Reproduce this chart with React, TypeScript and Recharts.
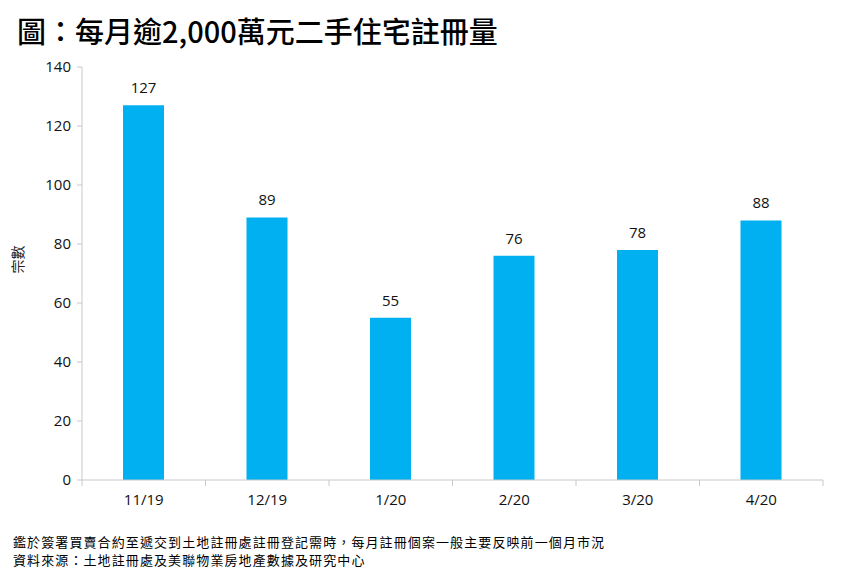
import { BarChart, Bar, XAxis, YAxis, LabelList } from "recharts";

const months = ["11/19", "12/19", "1/20", "2/20", "3/20", "4/20"];
const counts = [127, 89, 55, 76, 78, 88];
const yTicks = [0, 20, 40, 60, 80, 100, 120, 140];
const bandEdges = [0, 1, 2, 3, 4, 5, 6];

const data = months.map((m, i) => ({ month: m, count: counts[i], pos: i + 0.5 }));

const cjk = '"Noto Sans CJK TC", "Noto Sans", sans-serif';
const num = '"Open Sans", "Noto Sans", sans-serif';

export default function App() {
  return (
    <div style={{ position: "relative", width: 842, height: 582, background: "#fff", fontFamily: cjk }}>
      <style>{"body{margin:0}"}</style>
      <div
        style={{
          position: "absolute",
          left: 17,
          top: 11,
          fontSize: 29,
          fontWeight: 500,
          lineHeight: "38px",
          color: "#000",
          whiteSpace: "nowrap",
        }}
      >
        圖：每月逾2,000萬元二手住宅註冊量
      </div>

      <BarChart
        width={842}
        height={582}
        data={data}
        margin={{ top: 67, right: 19, bottom: 71, left: 0 }}
        barSize={41}
      >
        {/* boundary ticks between categories, like the original */}
        <XAxis
          xAxisId="a"
          type="number"
          dataKey="pos"
          domain={[0, 6]}
          ticks={bandEdges}
          interval={0}
          axisLine={{ stroke: "#c8c8c8" }}
          tick={() => <g />}
          tickLine={{ stroke: "#c8c8c8" }}
          tickSize={6}
          height={1}
        />
        <XAxis
          dataKey="month"
          xAxisId="b"
          axisLine={false}
          tickLine={false}
          tick={{ fill: "#111", fontSize: 15, fontFamily: num }}
          tickMargin={7}
          height={30}
        />
        <YAxis
          domain={[0, 140]}
          ticks={yTicks}
          width={82}
          axisLine={{ stroke: "#c8c8c8" }}
          tickLine={{ stroke: "#c8c8c8" }}
          tickSize={5}
          tick={{ fill: "#111", fontSize: 15, fontFamily: num }}
          tickMargin={6}
          label={{
            value: "宗數",
            angle: -90,
            position: "insideLeft",
            offset: 18,
            style: { fontSize: 14, fill: "#222", fontFamily: cjk },
          }}
        />
        <Bar dataKey="count" xAxisId="b" fill="#00B0F0" isAnimationActive={false}>
          <LabelList
            dataKey="count"
            position="top"
            offset={12}
            style={{ fontSize: 15, fill: "#111", fontFamily: num }}
          />
        </Bar>
      </BarChart>

      <div
        style={{
          position: "absolute",
          left: 13,
          top: 533,
          fontSize: 13,
          letterSpacing: 1.1,
          lineHeight: "18px",
          color: "#000",
          whiteSpace: "nowrap",
        }}
      >
        <div>鑑於簽署買賣合約至遞交到土地註冊處註冊登記需時，每月註冊個案一般主要反映前一個月市況</div>
        <div>資料來源：土地註冊處及美聯物業房地產數據及研究中心</div>
      </div>
    </div>
  );
}
